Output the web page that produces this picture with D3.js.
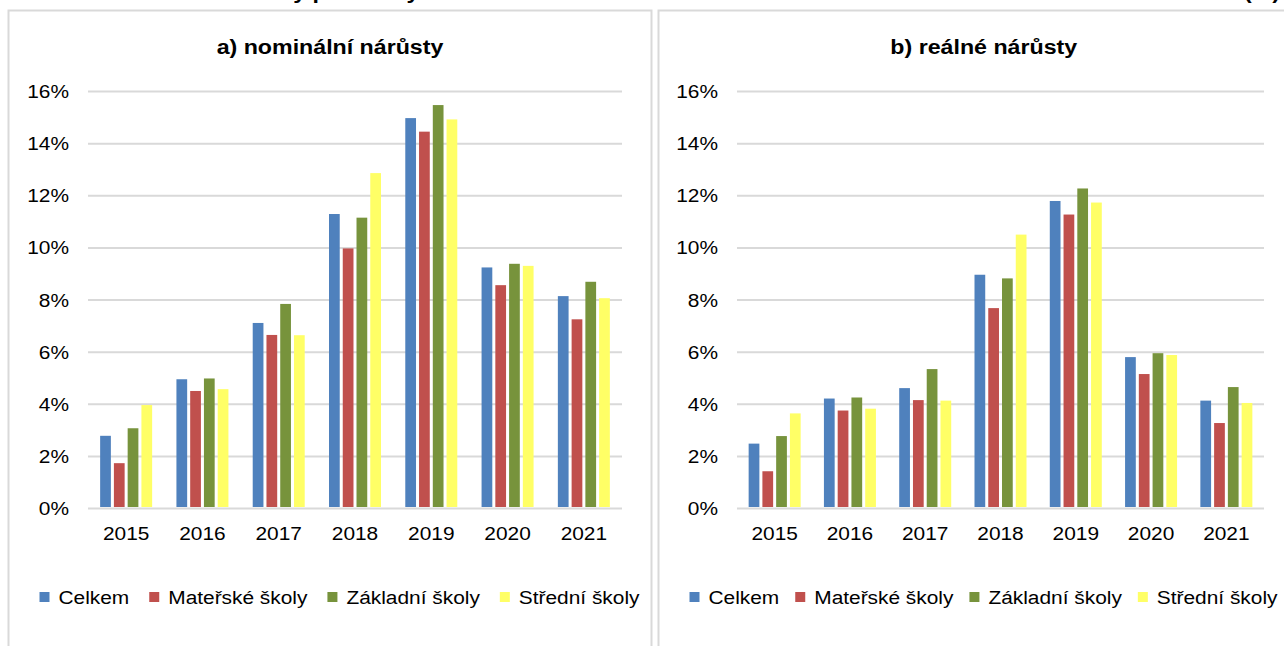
<!DOCTYPE html>
<html>
<head>
<meta charset="utf-8">
<script src="https://cdn.jsdelivr.net/npm/d3@7"></script>
<style>
  body { margin: 0; background: #fff; }
  text { font-family: "Liberation Sans", Arial, sans-serif; fill: #000; }
</style>
</head>
<body>
<div id="chart"></div>
<script>
// Meziroční nárůsty - two panels side by side

const years = ['2015', '2016', '2017', '2018', '2019', '2020', '2021']
const seriesNames = ['Celkem', 'Mateřské školy', 'Základní školy', 'Střední školy']
const seriesColors = ['#4F81BD', '#C0504D', '#77933C', '#FFFF66']
const yTicks = [0, 2, 4, 6, 8, 10, 12, 14, 16]

// a) nominální nárůsty (%)
const nomCelkem = [2.77, 4.94, 7.10, 11.28, 14.96, 9.23, 8.13]
const nomMaterske = [1.72, 4.49, 6.64, 9.96, 14.44, 8.55, 7.24]
const nomZakladni = [3.06, 4.97, 7.83, 11.14, 15.46, 9.37, 8.68]
const nomStredni = [3.95, 4.56, 6.63, 12.85, 14.91, 9.29, 8.05]

// b) reálné nárůsty (%)
const realCelkem = [2.47, 4.20, 4.60, 8.95, 11.78, 5.79, 4.12]
const realMaterske = [1.41, 3.74, 4.14, 7.67, 11.26, 5.14, 3.26]
const realZakladni = [2.76, 4.24, 5.33, 8.81, 12.26, 5.94, 4.64]
const realStredni = [3.63, 3.81, 4.12, 10.49, 11.72, 5.87, 4.03]

const width = 1284
const height = 646
const stretch = 1.16   // text in the picture is a bit wider than plain Arial

const panels = [
  { title: 'a) nominální nárůsty', box: [8.5, 651.5], plot: [88, 622], legendGap: 20,
    values: [nomCelkem, nomMaterske, nomZakladni, nomStredni] },
  { title: 'b) reálné nárůsty', box: [658.5, 1309], plot: [737, 1264], legendGap: 16,
    values: [realCelkem, realMaterske, realZakladni, realStredni] }
]

const svg = d3.select('#chart')
  .append('svg')
  .attr('width', width)
  .attr('height', height)

// stretched text helper
function label(g, x, y, str, size, weight, anchor) {
  return g.append('text')
    .attr('transform', `translate(${x},${y}) scale(${stretch},1)`)
    .attr('font-size', size)
    .attr('font-weight', weight || 'normal')
    .attr('text-anchor', anchor || 'start')
    .text(str)
}

// main title, cut off at the top edge (only descenders show)
label(svg, 109, -1, 'Meziroční nárůsty průměrných mezd ve školství v letech 2015–2021', 20, 'bold')
label(svg, 1280, -1, '(%)', 20, 'bold', 'end')

const yScale = d3.scaleLinear()
  .domain([0, 16])
  .range([508, 91])

panels.forEach(p => {
  const g = svg.append('g')

  // panel frame
  g.append('rect')
    .attr('x', p.box[0])
    .attr('y', 10.5)
    .attr('width', p.box[1] - p.box[0])
    .attr('height', 700)
    .attr('fill', 'none')
    .attr('stroke', '#d9d9d9')
    .attr('stroke-width', 2)

  const cx = (p.box[0] + p.box[1]) / 2
  label(g, cx, 54, p.title, 20, 'bold', 'middle')

  const plotW = p.plot[1] - p.plot[0]

  // y axis with gridlines
  const yAxis = d3.axisLeft(yScale)
    .tickValues(yTicks)
    .tickSize(-plotW)
    .tickFormat(d => d + '%')

  const yg = g.append('g')
    .attr('transform', `translate(${p.plot[0]},0)`)
    .call(yAxis)
  yg.select('.domain').remove()
  yg.selectAll('.tick line')
    .attr('stroke', '#d9d9d9')
    .attr('stroke-width', 2)
  yg.selectAll('.tick text')
    .attr('x', -19 / stretch)
    .attr('dy', 6.5)
    .attr('font-size', 18)
    .attr('font-family', '"Liberation Sans", Arial, sans-serif')
    .attr('fill', '#000')
    .attr('transform', `scale(${stretch},1)`)

  // x scales
  const x0 = d3.scaleBand()
    .domain(years)
    .range(p.plot)
  const bw = x0.bandwidth()
  const groupW = 52
  const x1 = d3.scaleBand()
    .domain(seriesNames)
    .range([(bw - groupW) / 2, (bw + groupW) / 2])
    .paddingInner(0.22)

  const xAxis = d3.axisBottom(x0).tickSize(0)
  const xg = g.append('g')
    .attr('transform', `translate(0,${yScale(0)})`)
    .call(xAxis)
  xg.select('.domain').remove()
  xg.selectAll('.tick text')
    .attr('y', 32)
    .attr('dy', 0)
    .attr('font-size', 18)
    .attr('font-family', '"Liberation Sans", Arial, sans-serif')
    .attr('fill', '#000')
    .attr('transform', `scale(${stretch},1)`)

  // bars
  const rows = []
  years.forEach((yr, i) => {
    seriesNames.forEach((s, j) => {
      rows.push({ year: yr, series: s, value: p.values[j][i], color: seriesColors[j] })
    })
  })

  g.append('g')
    .selectAll('rect')
    .data(rows)
    .enter()
    .append('rect')
    .attr('x', d => x0(d.year) + x1(d.series))
    .attr('y', d => yScale(d.value))
    .attr('width', x1.bandwidth())
    .attr('height', d => yScale(0) - yScale(d.value) - 1)
    .attr('fill', d => d.color)

  // legend
  const legend = g.append('g')
  let lx = p.box[0] + 31
  const ly = 597
  seriesNames.forEach((s, j) => {
    legend.append('rect')
      .attr('x', lx)
      .attr('y', ly - 5)
      .attr('width', 10)
      .attr('height', 10)
      .attr('fill', seriesColors[j])
    const t = label(legend, lx + 19, ly + 6.5, s, 18)
    lx += 19 + t.node().getComputedTextLength() * stretch + p.legendGap
  })
})
</script>
</body>
</html>
